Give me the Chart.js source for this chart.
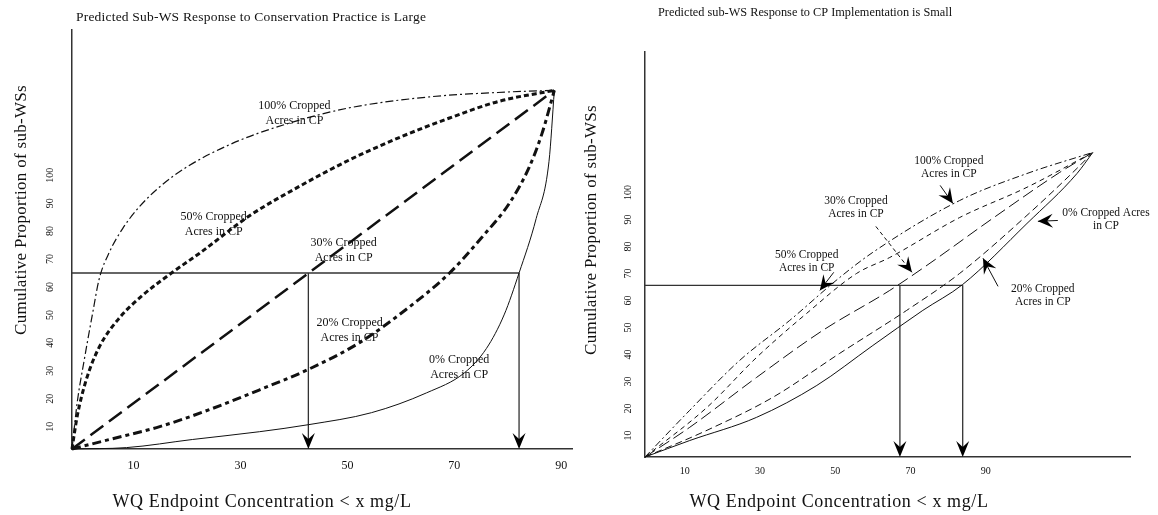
<!DOCTYPE html>
<html>
<head>
<meta charset="utf-8">
<script src="https://cdn.jsdelivr.net/npm/chart.js@4.4.0/dist/chart.umd.min.js"></script>
<style>
  body { margin: 0; background: #fff; }
  #wrap { position: relative; width: 1158px; height: 515px; }
  canvas { position: absolute; top: 0; }
</style>
</head>
<body>
<div id="wrap">
  <canvas id="leftChart" width="579" height="515" style="left:0"></canvas>
  <canvas id="rightChart" width="579" height="515" style="left:579px"></canvas>
</div>
<script>
// ---- left panel: response to conservation practice is large ----
const leftXTicks = [10, 30, 50, 70, 90];
const leftYTicks = [10, 20, 30, 40, 50, 60, 70, 80, 90, 100];

const left100X = [-1.5, -0.5, 0.8, 2.3, 3.6, 5.5, 8, 11, 15, 20, 28.5, 38, 50, 65, 80, 88.7];
const left100Y = [2, 19, 34, 50, 63, 72.5, 81, 88.5, 96, 103, 111.4, 118, 124, 128, 129.8, 130.4];
const left50X = [-1.5, -0.5, 1.2, 3.6, 7.4, 11.7, 17.1, 22.3, 31.7, 41, 50.4, 59.7, 69.1, 78.4, 88.7];
const left50Y = [2, 14, 27, 38.5, 49, 57, 65, 72, 85.5, 96, 105.5, 113.5, 120.5, 126.5, 130.4];
const left30X = [-1.5, 88.7];
const left30Y = [2, 130.4];
const left20X = [-1.5, 5.5, 14.9, 24.2, 33.6, 42.7, 52.2, 60.6, 69.1, 75.2, 80.3, 84, 86.4, 88.7];
const left20Y = [2, 5.4, 10, 16.1, 23.2, 30.5, 40, 51.4, 65, 77.9, 90, 102.9, 115, 130.4];
const left0X = [-1.5, 8.7, 21, 33.6, 42.7, 54.5, 64.8, 71.9, 76, 79.3, 82.1, 85.3, 87.7, 88.7];
const left0Y = [2, 2.5, 5.4, 8.2, 10.7, 15, 22.1, 29.3, 38, 50, 65, 84.5, 105, 130.4];

const leftThreshold = 65;
const leftCutoffs = [42.7, 82.1];

// ---- right panel: response to CP implementation is small ----
const rightXTicks = [10, 30, 50, 70, 90];
const rightYTicks = [10, 20, 30, 40, 50, 60, 70, 80, 90, 100];

const right100X = [-0.6, 11.3, 24.6, 37.9, 51.2, 60, 83.1, 101, 118.5];
const right100Y = [2, 19.3, 37.8, 52.6, 68.5, 77.8, 97, 107, 114.8];
const right50X = [-0.6, 15.9, 29.1, 42.4, 55.7, 64.5, 83.1, 101, 118.5];
const right50Y = [2, 20.4, 38.9, 55.2, 70, 75.9, 90.7, 101.9, 114.8];
const right30X = [-0.6, 11.3, 29.1, 46.7, 64.5, 74.4, 91.9, 109.7, 118.5];
const right30Y = [2, 13, 31.5, 48.9, 63.7, 73, 90.4, 107.4, 114.8];
const right20X = [-0.6, 15.9, 33.4, 51.2, 69, 83.1, 101, 114.3, 118.5];
const right20Y = [2, 11.9, 24.1, 40.4, 56.3, 70, 91.5, 108.9, 114.8];
const right0X = [-0.6, 11.3, 29.1, 45.1, 60, 73.3, 83.9, 101, 114.3, 118.5];
const right0Y = [2, 8.1, 16.7, 28.5, 43.3, 56.3, 65.9, 88.5, 107, 114.8];

const rightThreshold = 65.6;
const rightCutoffs = [67.2, 83.9];

const SERIF = '"Liberation Serif", "DejaVu Serif", serif';
const INK = "#111";
const AXIS = "#333";

function toPoints(xs, ys) {
  return xs.map((x, i) => ({ x: x, y: ys[i] }));
}

function curve(xs, ys, width, dash) {
  return {
    data: toPoints(xs, ys),
    showLine: true,
    borderColor: INK,
    borderWidth: width,
    borderDash: dash,
    pointRadius: 0,
    tension: 0.4,
    cubicInterpolationMode: "monotone",
    clip: false,
  };
}

function guide(points) {
  return {
    data: points,
    showLine: true,
    borderColor: AXIS,
    borderWidth: 1.3,
    pointRadius: 0,
    tension: 0,
    clip: false,
  };
}

// filled arrow head with its tip at (tx, ty), pointing away from (fx, fy)
function arrowHead(ctx, fx, fy, tx, ty, len, half) {
  const a = Math.atan2(ty - fy, tx - fx);
  ctx.save();
  ctx.translate(tx, ty);
  ctx.rotate(a);
  ctx.beginPath();
  ctx.moveTo(0, 0);
  ctx.lineTo(-len, -half);
  ctx.lineTo(-len * 0.62, 0);
  ctx.lineTo(-len, half);
  ctx.closePath();
  ctx.fillStyle = "#000";
  ctx.fill();
  ctx.restore();
}

function buildPanel(id, p) {
  const W = 579, H = 515;
  const decor = {
    id: "decor",
    afterDraw(chart) {
      const ctx = chart.ctx;
      const xs = chart.scales.x, ys = chart.scales.y;
      ctx.save();
      ctx.fillStyle = INK;

      ctx.font = p.titleFont + "px " + SERIF;
      ctx.letterSpacing = p.titleSpacing + "px";
      ctx.textAlign = "left";
      ctx.textBaseline = "middle";
      ctx.fillText(p.title, p.titlePos[0], p.titlePos[1]);

      ctx.font = "17px " + SERIF;
      ctx.letterSpacing = "0.3px";
      ctx.textAlign = "center";
      ctx.save();
      ctx.translate(p.yTitlePos[0], p.yTitlePos[1]);
      ctx.rotate(-Math.PI / 2);
      ctx.fillText("Cumulative Proportion of sub-WSs", 0, 0);
      ctx.restore();

      ctx.font = "18px " + SERIF;
      ctx.letterSpacing = "0.6px";
      ctx.fillText("WQ Endpoint Concentration < x mg/L", p.xTitlePos[0], p.xTitlePos[1]);
      ctx.letterSpacing = "0px";

      // rotated y tick labels
      ctx.font = p.yTickFont + "px " + SERIF;
      p.yTicks.forEach((v) => {
        ctx.save();
        ctx.translate(p.yTickX, ys.getPixelForValue(v));
        ctx.rotate(-Math.PI / 2);
        ctx.fillText(String(v), 0, 0);
        ctx.restore();
      });

      // curve labels
      ctx.font = p.noteFont + "px " + SERIF;
      p.notes.forEach((n) => {
        const nx = xs.getPixelForValue(n.x), ny = ys.getPixelForValue(n.y);
        n.lines.forEach((t, i) => ctx.fillText(t, nx, ny + i * p.noteGap));
      });

      // label pointers
      (p.pointers || []).forEach((a) => {
        const fx = xs.getPixelForValue(a.from[0]), fy = ys.getPixelForValue(a.from[1]);
        const tx = xs.getPixelForValue(a.to[0]), ty = ys.getPixelForValue(a.to[1]);
        ctx.save();
        ctx.strokeStyle = INK;
        ctx.lineWidth = 1;
        if (a.dash) ctx.setLineDash(a.dash);
        ctx.beginPath();
        ctx.moveTo(fx, fy);
        ctx.lineTo(tx, ty);
        ctx.stroke();
        ctx.restore();
        arrowHead(ctx, fx, fy, tx, ty, 15, 7);
      });

      // arrow heads on the cutoff drops
      p.cutoffs.forEach((c) => {
        const cx = xs.getPixelForValue(c);
        arrowHead(ctx, cx, ys.top, cx, ys.bottom, 16, 6.5);
      });
      ctx.restore();
    },
  };

  const datasets = p.series.map((s) => curve(s[0], s[1], s[2], s[3]));
  datasets.push(guide([{ x: p.xMin, y: p.threshold }, { x: p.cutoffs[p.cutoffs.length - 1], y: p.threshold }]));
  p.cutoffs.forEach((c) => datasets.push(guide([{ x: c, y: p.threshold }, { x: c, y: p.yMin + 2 }])));

  return new Chart(document.getElementById(id), {
    type: "scatter",
    data: { datasets: datasets },
    options: {
      responsive: false,
      animation: false,
      layout: {
        padding: {
          left: p.area.left,
          top: p.area.top,
          right: W - p.area.right,
          bottom: H - p.area.bottom - 30,
        },
      },
      plugins: { legend: { display: false }, tooltip: { enabled: false } },
      scales: {
        x: {
          type: "linear",
          min: p.xMin,
          max: p.xMax,
          grid: { display: false, drawTicks: false },
          border: { display: true, color: AXIS, width: 1.5 },
          ticks: {
            padding: p.xTickPad,
            color: INK,
            font: { family: SERIF, size: p.xTickFont },
            maxRotation: 0,
            autoSkip: false,
          },
          afterBuildTicks: (s) => { s.ticks = p.xTicks.map((v) => ({ value: v })); },
          afterFit: (s) => { s.height = 30; },
        },
        y: {
          type: "linear",
          min: p.yMin,
          max: p.yMax,
          grid: { display: false, drawTicks: false },
          border: { display: true, color: AXIS, width: 1.5 },
          ticks: { display: false },
          afterFit: (s) => { s.width = 0; },
        },
      },
    },
    plugins: [decor],
  });
}

buildPanel("leftChart", {
  area: { left: 72, top: 30, right: 572, bottom: 449 },
  xMin: -1.5, xMax: 92, yMin: 2, yMax: 152,
  xTicks: leftXTicks, yTicks: leftYTicks,
  xTickFont: 12, xTickPad: 10, yTickFont: 10, yTickX: 50,
  title: "Predicted Sub-WS Response to Conservation Practice is Large",
  titleFont: 13.5, titleSpacing: 0.2, titlePos: [76, 17],
  yTitlePos: [22, 210], xTitlePos: [262, 502],
  series: [
    [left100X, left100Y, 1.2, [8, 3, 2, 3]],
    [left50X, left50Y, 3, [5, 3]],
    [left30X, left30Y, 2.5, [16, 7]],
    [left20X, left20Y, 3, [9, 4, 4, 4]],
    [left0X, left0Y, 1, []],
  ],
  threshold: leftThreshold, cutoffs: leftCutoffs,
  noteFont: 12, noteGap: 15,
  notes: [
    { x: 40.1, y: 125, lines: ["100% Cropped", "Acres in CP"] },
    { x: 25, y: 85, lines: ["50% Cropped", "Acres in CP"] },
    { x: 49.3, y: 75.7, lines: ["30% Cropped", "Acres in CP"] },
    { x: 50.4, y: 47.1, lines: ["20% Cropped", "Acres in CP"] },
    { x: 70.9, y: 33.9, lines: ["0% Cropped", "Acres in CP"] },
  ],
});

buildPanel("rightChart", {
  area: { left: 66, top: 52, right: 551, bottom: 457 },
  xMin: -0.6, xMax: 128.4, yMin: 2, yMax: 152,
  xTicks: rightXTicks, yTicks: rightYTicks,
  xTickFont: 10, xTickPad: 8, yTickFont: 10, yTickX: 49,
  title: "Predicted sub-WS Response to CP Implementation is Small",
  titleFont: 12.3, titleSpacing: 0, titlePos: [79, 13],
  yTitlePos: [13, 230], xTitlePos: [260, 502],
  series: [
    [right100X, right100Y, 1, [7, 3, 2, 3]],
    [right50X, right50Y, 1, [5, 4]],
    [right30X, right30Y, 1, [12, 5]],
    [right20X, right20Y, 1, [7, 4]],
    [right0X, right0Y, 1, []],
  ],
  threshold: rightThreshold, cutoffs: rightCutoffs,
  noteFont: 11.5, noteGap: 13,
  notes: [
    { x: 80.2, y: 111.5, lines: ["100% Cropped", "Acres in CP"] },
    { x: 55.5, y: 96.7, lines: ["30% Cropped", "Acres in CP"] },
    { x: 42.4, y: 76.7, lines: ["50% Cropped", "Acres in CP"] },
    { x: 122, y: 92.2, lines: ["0% Cropped Acres", "in CP"] },
    { x: 105.2, y: 64.4, lines: ["20% Cropped", "Acres in CP"] },
  ],
  pointers: [
    { from: [77.9, 102.6], to: [81.3, 95.9] },
    { from: [60.8, 87.4], to: [70.4, 70.4], dash: [4, 3] },
    { from: [49.6, 70.4], to: [45.9, 63.7] },
    { from: [109.2, 89.6], to: [103.9, 89.3] },
    { from: [93.3, 65.2], to: [89.3, 75.6] },
  ],
});
</script>
</body>
</html>
